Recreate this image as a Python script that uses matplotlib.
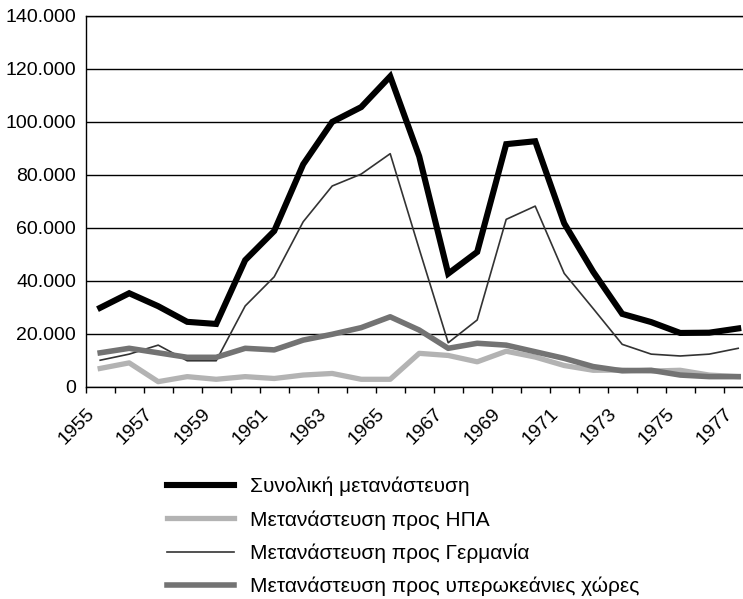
import matplotlib.pyplot as plt
from matplotlib.ticker import FuncFormatter, MultipleLocator

plt.rcParams['font.family'] = ['Liberation Sans', 'DejaVu Sans']

# ετήσια στοιχεία μετανάστευσης 1955-1977
years = list(range(1955, 1978))
total = [29800, 35300, 30400, 24500, 23700, 47800, 58800, 84000, 100000, 105600,
         117200, 87000, 42700, 50900, 91600, 92700, 61700, 43400, 27500, 24400,
         20300, 20400, 22000]
usa = [6900, 9000, 1900, 3800, 2800, 3800, 3100, 4400, 5000, 2800,
       2800, 12600, 11800, 9400, 13400, 11200, 8000, 6200, 6300, 5900,
       6200, 4400, 3800]
germany = [10000, 12300, 15700, 9800, 9800, 30500, 41500, 62300, 75800, 80300,
           88000, 52000, 16600, 25200, 63200, 68200, 42800, 29500, 16000, 12300,
           11600, 12300, 14500]
overseas = [12800, 14500, 12800, 11100, 11100, 14500, 13900, 17600, 19800, 22300,
            26400, 21400, 14500, 16400, 15700, 13200, 10700, 7600, 6000, 6200,
            4400, 3800, 3800]
labels = ['Συνολική μετανάστευση', 'Μετανάστευση προς ΗΠΑ',
          'Μετανάστευση προς Γερμανία', 'Μετανάστευση προς υπερωκεάνιες χώρες']

x = [y + 0.5 for y in years]

fig = plt.figure(figsize=(7.43, 5.99), dpi=100)
ax = fig.add_axes([85.7 / 743, 1 - 386.7 / 599, 667 / 743, (386.7 - 16) / 599])

ax.plot(x, total, color='black', lw=4.4, label=labels[0], solid_joinstyle='miter', zorder=3)
ax.plot(x, usa, color='#b3b3b3', lw=3.8, label=labels[1], zorder=3)
ax.plot(x, germany, color='#333333', lw=1.2, label=labels[2], zorder=3)
ax.plot(x, overseas, color='#737373', lw=4.0, label=labels[3], zorder=3)

ax.set_xlim(1955, 1978)
ax.set_ylim(0, 140000)
ax.yaxis.set_major_locator(MultipleLocator(20000))
ax.yaxis.set_major_formatter(FuncFormatter(lambda v, p: '0' if v == 0 else f'{int(v):,}'.replace(',', '.')))
ax.grid(axis='y', color='black', lw=1.0, zorder=1)

ax.set_xticks(range(1955, 1979))
ax.set_xticklabels([str(y) if (y - 1955) % 2 == 0 else '' for y in range(1955, 1979)],
                   rotation=45, ha='right', va='top', rotation_mode='anchor')
ax.tick_params(axis='x', length=4, width=1, pad=9, labelsize=14)
ax.tick_params(axis='y', length=0, pad=7, labelsize=14)
ax.spines['right'].set_visible(False)
for s in ['left', 'bottom', 'top']:
    ax.spines[s].set_linewidth(1.0)

fig.legend(loc='upper left', bbox_to_anchor=(167 / 743, 1 - 477 / 599), frameon=False,
           fontsize=15, handlelength=3.2, handletextpad=0.8, labelspacing=0.66,
           borderpad=0, borderaxespad=0)

fig.savefig('out.png', dpi=100)
